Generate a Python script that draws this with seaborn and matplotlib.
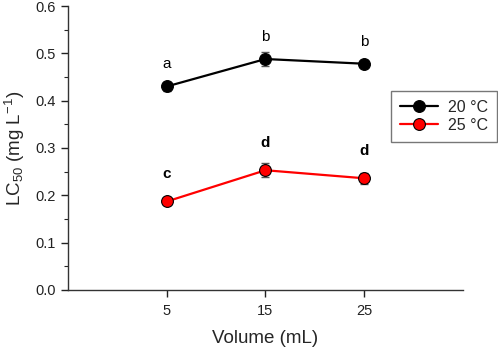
import matplotlib
matplotlib.use("Agg")
import matplotlib.pyplot as plt
import seaborn as sns
import pandas as pd
from matplotlib.ticker import MultipleLocator, FormatStrFormatter

volumes = [5, 15, 25]
lc50_20 = [0.430, 0.488, 0.478]
err_20 = [0.010, 0.014, 0.007]
lc50_25 = [0.187, 0.253, 0.236]
err_25 = [0.005, 0.015, 0.012]
letters_20 = ["a", "b", "b"]
letters_25 = ["c", "d", "d"]
series_names = ["20 °C", "25 °C"]

sns.set_theme(style="ticks")
plt.rcParams['font.family'] = ['Liberation Sans', 'DejaVu Sans']
plt.rcParams['mathtext.fontset'] = 'custom'
plt.rcParams['mathtext.rm'] = 'Liberation Sans'
plt.rcParams['mathtext.it'] = 'Liberation Sans'

df = pd.DataFrame({
    "Volume": volumes * 2,
    "LC50": lc50_20 + lc50_25,
    "Temp": [series_names[0]] * 3 + [series_names[1]] * 3,
})

fig = plt.figure(figsize=(4.98, 3.47), dpi=100)
ax = fig.add_axes([0.1365, 0.1643, 0.7932, 0.8184])

colors = {series_names[0]: "black", series_names[1]: "#ff0000"}
ax.errorbar(volumes, lc50_20, yerr=err_20, fmt="none", ecolor="#555555",
            elinewidth=1, capsize=3, capthick=1, zorder=2)
ax.errorbar(volumes, lc50_25, yerr=err_25, fmt="none", ecolor="#555555",
            elinewidth=1, capsize=3, capthick=1, zorder=2)
sns.lineplot(data=df, x="Volume", y="LC50", hue="Temp", palette=colors,
             marker="o", markersize=8.5, markeredgecolor="black",
             markeredgewidth=0.8, linewidth=1.6, ax=ax, zorder=3)

for x, y, t in zip(volumes, lc50_20, letters_20):
    ax.text(x, y + 0.047, t, ha="center", va="center", fontsize=11, color="black")
for x, y, t in zip(volumes, lc50_25, letters_25):
    ax.text(x, y + 0.058, t, ha="center", va="center", fontsize=11,
            fontweight="bold", color="black")

ax.set_xlim(-5, 35)
ax.set_ylim(0, 0.6)
ax.set_xticks(volumes)
ax.yaxis.set_major_locator(MultipleLocator(0.1))
ax.yaxis.set_minor_locator(MultipleLocator(0.05))
ax.yaxis.set_major_formatter(FormatStrFormatter("%.1f"))
ax.tick_params(axis="both", which="major", direction="out", length=5, width=1,
               labelsize=10.5, colors="#222222")
ax.tick_params(axis="y", which="minor", direction="out", length=3, width=0.8)
ax.tick_params(axis="x", pad=5)
for s in ["left", "bottom"]:
    ax.spines[s].set_color("#333333")
    ax.spines[s].set_linewidth(1)
sns.despine(ax=ax)

ax.set_xlabel("Volume (mL)", fontsize=13.5, labelpad=9)
ax.set_ylabel("LC$_{50}$ (mg L$^{-1}$)", fontsize=13.5, labelpad=6)

leg = ax.legend(loc="center", bbox_to_anchor=(0.891, 0.665),
                bbox_transform=fig.transFigure, frameon=True, fancybox=False,
                fontsize=11.5, handlelength=2.4, borderpad=0.55,
                labelspacing=0.2, handletextpad=0.6)
leg.get_frame().set_edgecolor("#555555")
leg.get_frame().set_linewidth(1)
leg.set_title(None)

fig.savefig("out.png", dpi=100)
